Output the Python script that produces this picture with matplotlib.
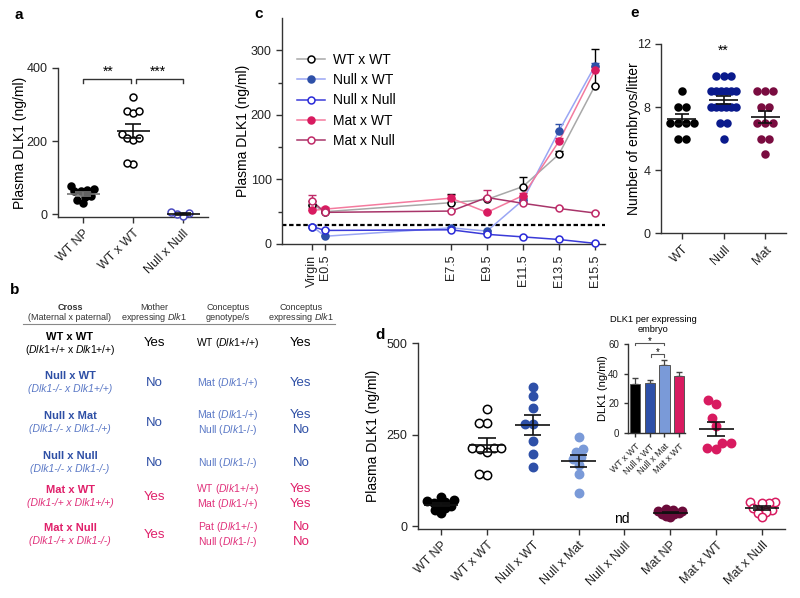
import numpy as np
import matplotlib
matplotlib.use('Agg')
import matplotlib.pyplot as plt
from matplotlib.lines import Line2D

plt.rcParams['font.family'] = ['Liberation Sans', 'DejaVu Sans']
plt.rcParams['mathtext.fontset'] = 'custom'
plt.rcParams['mathtext.rm'] = 'Liberation Sans'
plt.rcParams['mathtext.it'] = 'Liberation Sans:italic'
plt.rcParams['mathtext.bf'] = 'Liberation Sans:bold'

# ---------------- data ----------------
# panel a
a_labels = ['WT NP', 'WT x WT', 'Null x Null']
a_wt_np = [77, 62, 62, 67, 48, 50, 31, 38, 68]
a_wt_wt = [320, 282, 278, 282, 220, 209, 203, 209, 138, 141]
a_null_null = [2, -4, -1, 5]

# panel c (time course, mean + SEM)
c_ticks = ['Virgin', 'E0.5', 'E7.5', 'E9.5', 'E11.5', 'E13.5', 'E15.5']
c_days = [-0.2, 0.5, 7.5, 9.5, 11.5, 13.5, 15.5]
c_wt_wt = [61, 50, 64, 69, 89, 139, 245]
c_wt_wt_sem = [5, 3, 13, 4, 15, 5, 57]
c_null_wt = [27, 12, 25, 20, 68, 175, 276]
c_null_wt_sem = [2, 2, 2, 2, 4, 11, 5]
c_null_null = [27, 21, 22, 15, 11, 7, 1]
c_null_null_sem = [2, 2, 2, 2, 2, 1, 1]
c_mat_wt = [52, 54, 71, 49, 75, 159, 269]
c_mat_wt_sem = [3, 3, 5, 2, 4, 5, 5]
c_mat_null = [66, 49, 51, 72, 63, 55, 48]
c_mat_null_sem = [10, 2, 2, 11, 2, 2, 2]
c_threshold = 29.5

# panel d
d_labels = ['WT NP', 'WT x WT', 'Null x WT', 'Null x Mat', 'Null x Null',
            'Mat NP', 'Mat x WT', 'Mat x Null']
d_wt_np = [80, 71, 68, 66, 62, 57, 55, 48, 44, 35]
d_wt_wt = [321, 281, 281, 214, 212, 212, 210, 203, 140, 142]
d_null_wt = [380, 354, 322, 278, 280, 231, 197, 162]
d_null_mat = [242, 210, 203, 188, 182, 167, 142, 89]
d_mat_np = [47, 44, 42, 40, 38, 36, 34, 32, 28, 26]
d_mat_wt = [343, 334, 295, 274, 228, 228, 212, 210]
d_mat_null = [66, 65, 64, 62, 50, 45, 39, 37, 24]

# inset of d
ins_labels = ['WT x WT', 'Null x WT', 'Null x Mat', 'Mat x WT']
ins_vals = [33, 33.5, 46, 38.6]
ins_sem = [4, 2.5, 3, 2.5]

# panel e
e_labels = ['WT', 'Null', 'Mat']
e_wt = [9, 8, 8, 7, 7, 7, 7, 6, 6]
e_null = [10, 10, 10, 9, 9, 9, 9, 9, 9, 8, 8, 8, 8, 8, 8, 7, 7, 6]
e_mat = [9, 9, 9, 8, 8, 7, 7, 7, 6, 6, 5]

# panel b table
b_cross = ['WT x WT', 'Null x WT', 'Null x Mat', 'Null x Null', 'Mat x WT', 'Mat x Null']
b_geno = ['(Dlk1+/+ x Dlk1+/+)', '(Dlk1-/- x Dlk1+/+)', '(Dlk1-/- x Dlk1-/+)',
          '(Dlk1-/- x Dlk1-/-)', '(Dlk1-/+ x Dlk1+/+)', '(Dlk1-/+ x Dlk1-/-)']
b_mother = ['Yes', 'No', 'No', 'No', 'Yes', 'Yes']
b_conceptus = [['WT (Dlk1+/+)'], ['Mat (Dlk1-/+)'], ['Mat (Dlk1-/+)', 'Null (Dlk1-/-)'],
               ['Null (Dlk1-/-)'], ['WT (Dlk1+/+)', 'Mat (Dlk1-/+)'],
               ['Pat (Dlk1+/-)', 'Null (Dlk1-/-)']]
b_expr = [['Yes'], ['Yes'], ['Yes', 'No'], ['No'], ['Yes', 'Yes'], ['No', 'No']]

# colours
BLACK = '#000000'
BLUE = '#2e50a8'
LBLUE = '#7a9ad8'
NNBLUE = '#2a2ad8'
MAROON = '#6b0b3a'
CRIMSON = '#d81b60'
NAVY = '#0a1a8c'

W, H = 800, 598
fig = plt.figure(figsize=(8, 5.98), dpi=100)


def px_axes(l, t, r, b):
    return fig.add_axes([l / W, 1 - b / H, (r - l) / W, (b - t) / H])


def ftext(x, y, s, **kw):
    kw.setdefault('ha', 'center')
    kw.setdefault('va', 'center')
    fig.text(x / W, 1 - y / H, s, **kw)


def style(ax, size=9):
    for s in ['top', 'right']:
        ax.spines[s].set_visible(False)
    for s in ['left', 'bottom']:
        ax.spines[s].set_color('#333333')
        ax.spines[s].set_linewidth(1)
    ax.tick_params(color='#333333', labelcolor='#222222', length=4, width=1, labelsize=size)


def swarm(vals, d, xpx, ypx):
    # beeswarm offsets (in x data units), d = marker spacing in pixels
    y = np.asarray(vals, float) * ypx
    x = np.zeros(len(y))
    placed = []
    for i in np.argsort(y):
        cands = [0.0]
        for j in placed:
            dy = y[i] - y[j]
            if abs(dy) < d:
                dx = np.sqrt(d * d - dy * dy)
                cands += [x[j] + dx, x[j] - dx]
        best = None
        for c in sorted(cands, key=lambda v: (round(abs(v), 6), v)):
            if all((c - x[j]) ** 2 + (y[i] - y[j]) ** 2 >= d * d - 1e-6 for j in placed):
                best = c
                break
        x[i] = best
        placed.append(i)
    return x / xpx


def rows(vals, step, maxw):
    # integer data: spread equal values along a row
    vals = np.asarray(vals, float)
    off = np.zeros(len(vals))
    for v in np.unique(vals):
        idx = np.where(vals == v)[0]
        n = len(idx)
        st = step if n < 2 else min(step, maxw / (n - 1))
        off[idx] = (np.arange(n) - (n - 1) / 2) * st
    return off


def dots(ax, i, vals, off, color, filled, ms, mw=0.33, lc='#111111'):
    vals = np.asarray(vals, float)
    ax.plot(i + off, vals, 'o', ms=ms, mfc=color if filled else 'white', mec=color,
            mew=1.1, ls='none', zorder=3, clip_on=False)
    m = vals.mean()
    se = vals.std(ddof=1) / np.sqrt(len(vals))
    ax.hlines(m, i - mw, i + mw, color=lc, lw=1.2, zorder=4)
    ax.vlines(i, m - se, m + se, color=lc, lw=1.2, zorder=4)
    ax.hlines([m - se, m + se], i - mw / 2, i + mw / 2, color=lc, lw=1.2, zorder=4)


# ---------------- panel a ----------------
ax = px_axes(58, 68, 208, 217)
style(ax)
axp = (50.5, 149 / 408)
dots(ax, 0, a_wt_np, swarm(a_wt_np, 6.5, *axp), BLACK, True, 5, lc='#777777')
dots(ax, 1, a_wt_wt, swarm(a_wt_wt, 6.5, *axp), BLACK, False, 5)
dots(ax, 2, a_null_null, swarm(a_null_null, 6.5, *axp), '#4a4ac0', False, 5)
ax.set_xlim(-0.5, 2.5)
ax.set_ylim(-8, 400)
ax.set_yticks([0, 200, 400])
ax.set_xticks(range(3))
ax.set_xticklabels(a_labels, rotation=45, ha='right', rotation_mode='anchor')
ax.set_ylabel('Plasma DLK1 (ng/ml)', fontsize=10)
ax.yaxis.set_label_coords((27 - 58) / 150, 0.5)
ax.plot([0, 0, 0.95, 0.95], [360, 371, 371, 360], color='#333', lw=1, clip_on=False)
ax.plot([1.05, 1.05, 2, 2], [360, 371, 371, 360], color='#333', lw=1, clip_on=False)
ax.text(0.5, 390, '**', ha='center', va='center', fontsize=10)
ax.text(1.5, 390, '***', ha='center', va='center', fontsize=10)
ftext(19, 15, 'a', fontsize=11, fontweight='bold')

# ---------------- panel c ----------------
ax = px_axes(282, 18, 605, 244)
style(ax)
series = [
    ('WT x WT', c_wt_wt, c_wt_wt_sem, '#a8a8a8', BLACK, False),
    ('Null x WT', c_null_wt, c_null_wt_sem, '#9aa6f4', BLUE, True),
    ('Null x Null', c_null_null, c_null_null_sem, '#3a3ad8', NNBLUE, False),
    ('Mat x WT', c_mat_wt, c_mat_wt_sem, '#f47a9e', CRIMSON, True),
    ('Mat x Null', c_mat_null, c_mat_null_sem, '#a8356a', '#c02a68', False),
]
handles = []
for name, y, se, lcol, mcol, filled in series:
    ax.errorbar(c_days, y, yerr=[np.zeros(len(se)), se], fmt='none', ecolor=mcol,
                elinewidth=1, capsize=3, zorder=2)
    ax.plot(c_days, y, '-', color=lcol, lw=1.1, zorder=2)
    ax.plot(c_days, y, 'o', ms=5, mfc=mcol if filled else 'white', mec=mcol,
            mew=1.1, ls='none', zorder=3, clip_on=False)
    handles.append(Line2D([0], [0], color=lcol, lw=1.1, marker='o', ms=5,
                          mfc=mcol if filled else 'white', mec=mcol, mew=1.1))
ax.axhline(c_threshold, color='black', lw=1.6, ls=(0, (2, 1.2)), zorder=1)
ax.set_xlim(-1.89, 16.06)
ax.set_ylim(0, 350)
ax.set_yticks([0, 100, 200, 300])
ax.set_yticks([50, 150, 250], minor=True)
ax.tick_params(which='minor', length=3, width=1, color='#333333')
ax.set_xticks(c_days)
ax.set_xticklabels(c_ticks, rotation=90)
ax.set_ylabel('Plasma DLK1 (ng/ml)', fontsize=10)
ax.yaxis.set_label_coords((250 - 282) / 323, 0.5)
ax.legend(handles, [s[0] for s in series], loc='upper left', frameon=False, fontsize=10,
          bbox_to_anchor=(0.03, 0.87), handlelength=2.0, labelspacing=0.45,
          handletextpad=0.6, borderaxespad=0)
ftext(259, 14, 'c', fontsize=11, fontweight='bold')

# ---------------- panel e ----------------
ax = px_axes(661, 44, 786, 233)
style(ax)
dots(ax, 0, e_wt, rows(e_wt, 0.19, 0.6), BLACK, True, 5, mw=0.35)
dots(ax, 1, e_null, rows(e_null, 0.19, 0.6), NAVY, True, 5, mw=0.35)
dots(ax, 2, e_mat, rows(e_mat, 0.19, 0.6), '#7a0c40', True, 5, mw=0.35)
ax.set_xlim(-0.5, 2.5)
ax.set_ylim(0, 12)
ax.set_yticks([0, 4, 8, 12])
ax.set_xticks(range(3))
ax.set_xticklabels(e_labels, rotation=45, ha='right', rotation_mode='anchor')
ax.set_ylabel('Number of embryos/litter', fontsize=10)
ax.yaxis.set_label_coords((641 - 661) / 125, 0.5)
ax.text(1, 11.55, '**', ha='center', va='center', fontsize=10)
ftext(635, 13, 'e', fontsize=11, fontweight='bold')

# ---------------- panel d ----------------
ax = px_axes(418, 343, 785, 529)
style(ax)
dxp = (45.8, 186 / 508)
dots(ax, 0, d_wt_np, swarm(d_wt_np, 6.5, *dxp), BLACK, True, 6, mw=0.38)
dots(ax, 1, d_wt_wt, swarm(d_wt_wt, 7.5, *dxp), BLACK, False, 6, mw=0.38)
dots(ax, 2, d_null_wt, swarm(d_null_wt, 8, *dxp), BLUE, True, 6, mw=0.38)
dots(ax, 3, d_null_mat, swarm(d_null_mat, 7.5, *dxp), LBLUE, True, 6, mw=0.38)
dots(ax, 5, d_mat_np, swarm(d_mat_np, 4.5, *dxp), MAROON, True, 6, mw=0.38)
dots(ax, 6, d_mat_wt, swarm(d_mat_wt, 9, *dxp), CRIMSON, True, 6, mw=0.38)
dots(ax, 7, d_mat_null, swarm(d_mat_null, 6.5, *dxp), CRIMSON, False, 6, mw=0.38)
ax.text(3.95, 18, 'nd', ha='center', va='center', fontsize=10)
ax.set_xlim(-0.5, 7.5)
ax.set_ylim(-8, 500)
ax.set_yticks([0, 250, 500])
ax.set_xticks(range(8))
ax.set_xticklabels(d_labels, rotation=45, ha='right', rotation_mode='anchor')
ax.set_ylabel('Plasma DLK1 (ng/ml)', fontsize=10)
ax.yaxis.set_label_coords((380 - 418) / 367, 0.5)
ftext(380, 335, 'd', fontsize=11, fontweight='bold')

# inset
ax = px_axes(628, 344, 685, 433)
style(ax, size=7)
ax.tick_params(length=3)
bar_cols = [BLACK, BLUE, LBLUE, CRIMSON]
xs = np.arange(len(ins_vals))
ax.bar(xs, ins_vals, width=0.7, color=bar_cols, edgecolor='#555555', lw=0.7, zorder=2)
ax.errorbar(xs, ins_vals, yerr=[np.zeros(4), ins_sem], fmt='none', ecolor='#444444',
            elinewidth=0.9, capsize=2.5, zorder=1)
ax.set_xlim(-0.48, 3.4)
ax.set_ylim(0, 60)
ax.set_yticks([0, 20, 40, 60])
ax.set_xticks(xs)
ax.set_xticklabels(ins_labels, rotation=45, ha='right', rotation_mode='anchor', fontsize=6.5)
ax.set_ylabel('DLK1 (ng/ml)', fontsize=8)
ax.yaxis.set_label_coords((608 - 628) / 57, 0.5)
ax.plot([0, 0, 2, 2], [59, 60.5, 60.5, 59], color='#555', lw=0.8, clip_on=False)
ax.plot([1.1, 1.1, 2, 2], [51.5, 53, 53, 51.5], color='#555', lw=0.8, clip_on=False)
ax.text(1, 62, '*', ha='center', va='center', fontsize=7)
ax.text(1.55, 54.5, '*', ha='center', va='center', fontsize=7)
ftext(653, 319, 'DLK1 per expressing', fontsize=6.7)
ftext(653, 329, 'embryo', fontsize=6.7)

# ---------------- panel b (table) ----------------
ftext(15, 290, 'b', fontsize=11, fontweight='bold')
hc = '#333333'
ftext(70, 307, 'Cross', fontsize=6.5, fontweight='bold', color=hc)
ftext(70, 317, '(Maternal x paternal)', fontsize=6.5, color=hc)
ftext(154, 307, 'Mother', fontsize=6.5, color=hc)
ftext(154, 317, r'expressing $\mathit{Dlk1}$', fontsize=6.5, color=hc)
ftext(228, 307, 'Conceptus', fontsize=6.5, color=hc)
ftext(228, 317, 'genotype/s', fontsize=6.5, color=hc)
ftext(301, 307, 'Conceptus', fontsize=6.5, color=hc)
ftext(301, 317, r'expressing $\mathit{Dlk1}$', fontsize=6.5, color=hc)
fig.add_artist(Line2D([23 / W, 335 / W], [1 - 324 / H] * 2, color='#888888', lw=0.8))

row_top = [337, 376, 416, 456, 490, 528]
title_cols = [BLACK, '#2e4fa5', '#2e4fa5', '#2e4fa5', '#e0206a', '#e0206a']
sub_cols = [BLACK, '#5a78c6', '#5a78c6', '#5a78c6', '#e0307a', '#e0307a']


def mk_italic(s):
    return s.replace('Dlk1', r'$\mathit{Dlk1}$')


for k in range(len(b_cross)):
    yt = row_top[k]
    yc = yt + 6.5
    ftext(70, yt, b_cross[k], fontsize=8, fontweight='bold', color=title_cols[k])
    if k == 0:
        ftext(70, yt + 13, mk_italic(b_geno[k]), fontsize=7.5, color=sub_cols[k])
    else:
        ftext(70, yt + 13, b_geno[k], fontsize=7.5, style='italic', color=sub_cols[k])
    ftext(154, yc, b_mother[k], fontsize=9.5, color=title_cols[k])
    n = len(b_conceptus[k])
    for j in range(n):
        yy = yc + (j - (n - 1) / 2) * 15
        ftext(228, yy, mk_italic(b_conceptus[k][j]), fontsize=7.5, color=sub_cols[k])
        ftext(301, yy, b_expr[k][j], fontsize=9.5, color=title_cols[k])

fig.savefig('out.png', dpi=100)
